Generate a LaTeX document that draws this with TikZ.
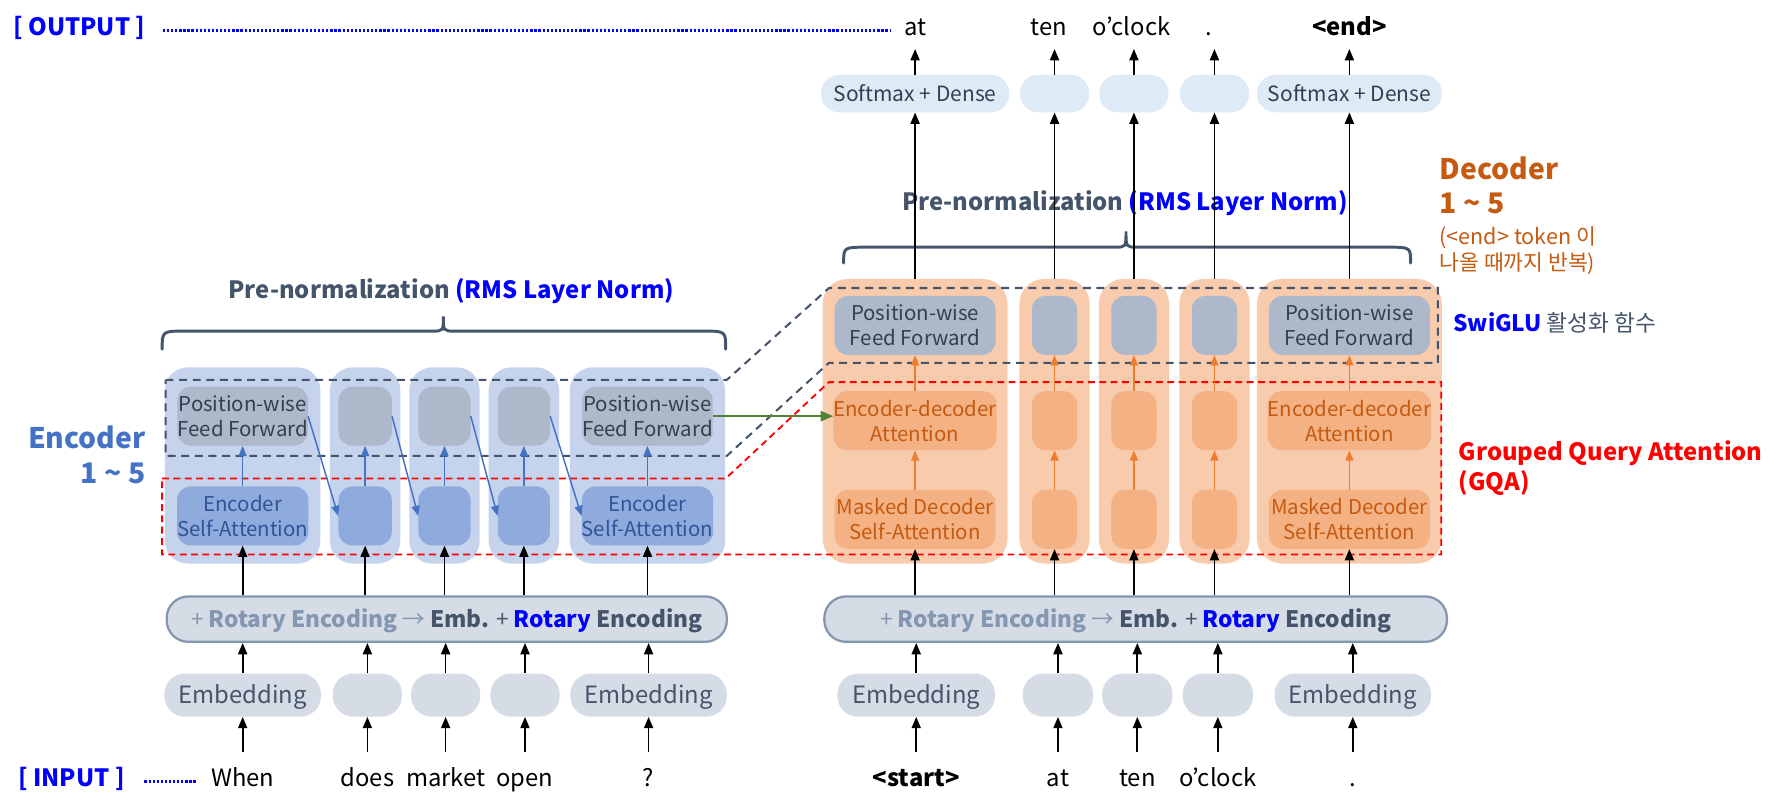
\documentclass[tikz,border=0pt]{standalone}
\usepackage{fontspec}
\setmainfont{Noto Sans CJK KR}
\usetikzlibrary{arrows.meta}
\definecolor{encBig}{HTML}{C5D3EC}
\definecolor{encSA}{HTML}{8FAADC}
\definecolor{pwff}{HTML}{ADB9CA}
\definecolor{decBig}{HTML}{F8CBAD}
\definecolor{decAt}{HTML}{F4B183}
\definecolor{decTxt}{HTML}{C55A11}
\definecolor{orArr}{HTML}{ED7D31}
\definecolor{blArr}{HTML}{4472C4}
\definecolor{smBox}{HTML}{DEEBF7}
\definecolor{embBox}{HTML}{D6DCE5}
\definecolor{rotLine}{HTML}{8497B0}
\definecolor{darkTxt}{HTML}{44546A}
\definecolor{pwTxt}{HTML}{333F50}
\definecolor{saTxt}{HTML}{2F5597}
\definecolor{pureBlue}{HTML}{0000FF}
\definecolor{pureRed}{HTML}{FF0000}
\definecolor{grnArr}{HTML}{548235}
\newcommand\fsz[2]{\fontsize{#1}{#2}\selectfont}
\begin{document}
\begin{tikzpicture}[x=1pt,y=-1pt,
  box/.style={inner sep=0pt, align=center, draw=none},
  ebig/.style={box, fill=encBig, rounded corners=20pt, minimum height=173pt},
  dbig/.style={box, fill=decBig, rounded corners=22pt, minimum height=251pt},
  pwbox/.style={box, fill=pwff, rounded corners=12pt, minimum height=52pt, text=pwTxt, font=\fsz{18}{22}},
  sabox/.style={box, fill=encSA, rounded corners=12pt, minimum height=52pt, text=saTxt, font=\fsz{18}{22}},
  dabox/.style={box, fill=decAt, rounded corners=12pt, minimum height=52pt, text=decTxt, font=\fsz{18}{22}},
  smbox/.style={box, fill=smBox, rounded corners=16pt, minimum height=33pt, text=pwTxt, font=\fsz{18.5}{20}},
  embbox/.style={box, fill=embBox, rounded corners=18pt, minimum height=38pt, text=darkTxt, font=\fsz{21}{24}, text height=17pt, text depth=3pt},
  rotbox/.style={box, fill=embBox, draw=rotLine, line width=2pt, rounded corners=19pt, minimum height=40pt, font=\fsz{20}{24}, text height=17pt, text depth=3pt},
  word/.style={inner xsep=0pt, inner ysep=14pt, text height=16pt, text depth=5pt, font=\fsz{21}{24}},
  oword/.style={inner xsep=0pt, inner ysep=6.5pt, text height=16pt, text depth=5pt, font=\fsz{21}{24}},
  blk/.style={-{Triangle[length=10pt,width=8pt]}, line width=1.5pt, black},
  bla/.style={-{Triangle[length=9pt,width=7pt]}, line width=1.3pt, blArr},
  ora/.style={-{Triangle[length=9pt,width=7pt]}, line width=1.3pt, orArr},
  grn/.style={-{Triangle[length=11pt,width=9pt]}, line width=1.8pt, grnArr},
  reddash/.style={pureRed, line width=1.6pt, dash pattern=on 6pt off 4pt},
  greydash/.style={darkTxt, line width=1.8pt, dash pattern=on 7pt off 5pt},
  brace/.style={darkTxt, line width=2.6pt, line cap=round},
  dotblue/.style={pureBlue, line width=2.4pt, dash pattern=on 2pt off 1.6pt}
]
\useasboundingbox (0,0) rectangle (1568,711);

% ---------------- Encoder ----------------
\foreach \i/\x/\w in {1/214/137,2/322/62,3/392/62,4/462/62,5/571/137}
  \node[ebig, minimum width=\w pt] (ebig\i) at (\x,410.5) {};
\node[pwbox, minimum width=115pt] (epw1) at (214,367) {Position-wise\\Feed Forward};
\node[pwbox, minimum width=47pt] (epw2) at (322,367) {};
\node[pwbox, minimum width=46pt] (epw3) at (392,367) {};
\node[pwbox, minimum width=46pt] (epw4) at (462,367) {};
\node[pwbox, minimum width=115pt] (epw5) at (571,367) {Position-wise\\Feed Forward};
\node[sabox, minimum width=115pt] (esa1) at (214,455) {Encoder\\Self-Attention};
\node[sabox, minimum width=47pt] (esa2) at (322,455) {};
\node[sabox, minimum width=46pt] (esa3) at (392,455) {};
\node[sabox, minimum width=46pt] (esa4) at (462,455) {};
\node[sabox, minimum width=115pt] (esa5) at (571,455) {Encoder\\Self-Attention};

\node[rotbox, minimum width=494pt] (erot) at (394,546)
 {\textcolor{rotLine}{+ \textbf{Rotary Encoding} →} \textcolor{darkTxt}{\textbf{Emb.} + \textcolor{pureBlue}{\textbf{Rotary}} \textbf{Encoding}}};
\node[embbox, minimum width=138pt] (eemb1) at (214,613) {Embedding};
\node[embbox, minimum width=61pt] (eemb2) at (324,613) {};
\node[embbox, minimum width=61pt] (eemb3) at (393,613) {};
\node[embbox, minimum width=61pt] (eemb4) at (463,613) {};
\node[embbox, minimum width=138pt] (eemb5) at (572,613) {Embedding};

\node[word] (ein1) at (214,688) {When};
\node[word] (ein2) at (324,688) {does};
\node[word] (ein3) at (393,688) {market};
\node[word] (ein4) at (463,688) {open};
\node[word] (ein5) at (572,688) {?};

% ---------------- Decoder ----------------
\foreach \i/\x/\w in {1/807/163,2/930/62,3/1000/62,4/1071/62,5/1190/163}
  \node[dbig, minimum width=\w pt] (dbig\i) at (\x,371.5) {};
\node[pwbox, minimum width=142pt] (dpw1) at (807,287) {Position-wise\\Feed Forward};
\node[pwbox, minimum width=40pt] (dpw2) at (930,287) {};
\node[pwbox, minimum width=40pt] (dpw3) at (1000,287) {};
\node[pwbox, minimum width=40pt] (dpw4) at (1071,287) {};
\node[pwbox, minimum width=142pt] (dpw5) at (1190,287) {Position-wise\\Feed Forward};
\node[dabox, minimum width=142pt] (dea1) at (807,371) {Encoder-decoder\\Attention};
\node[dabox, minimum width=40pt] (dea2) at (930,371) {};
\node[dabox, minimum width=40pt] (dea3) at (1000,371) {};
\node[dabox, minimum width=40pt] (dea4) at (1071,371) {};
\node[dabox, minimum width=142pt] (dea5) at (1190,371) {Encoder-decoder\\Attention};
\node[dabox, minimum width=142pt] (dms1) at (807,458) {Masked Decoder\\Self-Attention};
\node[dabox, minimum width=40pt] (dms2) at (930,458) {};
\node[dabox, minimum width=40pt] (dms3) at (1000,458) {};
\node[dabox, minimum width=40pt] (dms4) at (1071,458) {};
\node[dabox, minimum width=142pt] (dms5) at (1190,458) {Masked Decoder\\Self-Attention};

\node[smbox, minimum width=166pt] (dsm1) at (807,82.5) {Softmax + Dense};
\node[smbox, minimum width=61pt] (dsm2) at (930,82.5) {};
\node[smbox, minimum width=61pt] (dsm3) at (1000,82.5) {};
\node[smbox, minimum width=61pt] (dsm4) at (1071,82.5) {};
\node[smbox, minimum width=163pt] (dsm5) at (1190,82.5) {Softmax + Dense};

\node[rotbox, minimum width=549pt] (drot) at (1001.5,546)
 {\textcolor{rotLine}{+ \textbf{Rotary Encoding} →} \textcolor{darkTxt}{\textbf{Emb.} + \textcolor{pureBlue}{\textbf{Rotary}} \textbf{Encoding}}};
\node[embbox, minimum width=139pt] (demb1) at (808,613) {Embedding};
\node[embbox, minimum width=62pt] (demb2) at (933,613) {};
\node[embbox, minimum width=62pt] (demb3) at (1003,613) {};
\node[embbox, minimum width=62pt] (demb4) at (1074,613) {};
\node[embbox, minimum width=138pt] (demb5) at (1193,613) {Embedding};

\node[word] (din1) at (808,688) {\textbf{<start>}};
\node[word] (din2) at (933,688) {at};
\node[word] (din3) at (1003,688) {ten};
\node[word] (din4) at (1074,688) {o’clock};
\node[word] (din5) at (1193,688) {.};

\node[oword] (dout1) at (807,26) {at};
\node[oword] (dout2) at (925,26) {ten};
\node[oword] (dout3) at (998,26) {o’clock};
\node[oword] (dout4) at (1066,26) {.};
\node[oword] (dout5) at (1190,26) {\textbf{<end>}};

% ---------------- dashed regions ----------------
\draw[greydash] (146,335) -- (641,335) -- (731,254) -- (1268,254) -- (1268,320) -- (731,320) -- (641,402) -- (146,402) -- cycle;
\draw[reddash] (143,422) -- (640,422) -- (731,337) -- (1271,337) -- (1271,489) -- (143,489) -- cycle;

% ---------------- labels ----------------
\node[font=\fsz{21}{24}\bfseries, text=pureBlue] (outlbl) at (70,25) {[ OUTPUT ]};
\node[font=\fsz{21}{24}\bfseries, text=pureBlue] (inlbl) at (63,687) {[ INPUT ]};
\coordinate (outdotend) at (785,22);
\coordinate (indotend) at (173,683);
\draw[dotblue] (outlbl.east) ++(12pt,-2pt) coordinate (outdotstart) -- (outdotstart -| outdotend);
\draw[dotblue] (inlbl.east) ++(14pt,-2pt) coordinate (indotstart) -- (indotstart -| indotend);

\node[anchor=east, align=right, font=\fsz{25}{31}\bfseries, text=blArr] (enclbl) at (132,401) {Encoder\\1 \textasciitilde{} 5};
\node[anchor=north west, align=left, font=\fsz{25}{30}\bfseries, text=decTxt] (declbl) at (1266,135) {Decoder\\1 \textasciitilde{} 5};
\node[anchor=north west, align=left, font=\fsz{19}{23}, text=decTxt] (decnote) at (1266,196) {(<end> token 이\\나올 때까지 반복)};
\node[anchor=west, font=\fsz{20}{24}, text=darkTxt] (swiglu) at (1278,285) {\textcolor{pureBlue}{\textbf{SwiGLU}} 활성화 함수};
\node[anchor=west, align=left, font=\fsz{21}{26}\bfseries, text=pureRed] (gqa) at (1283,413) {Grouped Query Attention\\(GQA)};

\node[font=\fsz{21}{24}, text=darkTxt] (epre) at (398,257) {\textbf{Pre-normalization} \textcolor{pureBlue}{\textbf{(RMS Layer Norm)}}};
\node[font=\fsz{21}{24}, text=darkTxt] (dpre) at (992,179) {\textbf{Pre-normalization} \textcolor{pureBlue}{\textbf{(RMS Layer Norm)}}};

% braces
\draw[brace] (143,308) .. controls (143,292) .. (163,292) -- (381,292) .. controls (391,292) .. (391,279) .. controls (391,292) .. (401,292) -- (620,292) .. controls (640,292) .. (640,308);
\draw[brace] (744,232) .. controls (744,218) .. (764,218) -- (983,218) .. controls (993,218) .. (993,204) .. controls (993,218) .. (1003,218) -- (1224,218) .. controls (1244,218) .. (1244,232);

% ---------------- arrows: encoder ----------------
\foreach \i in {1,...,5} {
  \draw[blk] (eemb\i.south |- ein\i.north) -- (eemb\i.south);
  \draw[blk] (eemb\i.north) -- (eemb\i.north |- erot.south);
  \draw[blk] (erot.north -| esa\i.south) -- (esa\i.south);
  \draw[bla] (esa\i.north) -- (epw\i.south);
}
\draw[bla] (epw1.east) -- (esa2.west);
\draw[bla] (epw2.east) -- (esa3.west);
\draw[bla] (epw3.east) -- (esa4.west);
\draw[bla] (epw4.east) -- (esa5.west);
\draw[grn] (epw5.east) -- (epw5.east -| dea1.west);

% ---------------- arrows: decoder ----------------
\foreach \i in {1,...,5} {
  \draw[blk] (demb\i.south |- din\i.north) -- (demb\i.south);
  \draw[blk] (demb\i.north) -- (demb\i.north |- drot.south);
  \draw[blk] (drot.north -| dms\i.south) -- (dms\i.south);
  \draw[ora] (dms\i.north) -- (dea\i.south);
  \draw[ora] (dea\i.north) -- (dpw\i.south);
  \draw[blk] (dbig\i.north) -- (dsm\i.south);
  \draw[blk] (dsm\i.north) -- (dsm\i.north |- dout\i.south);
}
\end{tikzpicture}
\end{document}
